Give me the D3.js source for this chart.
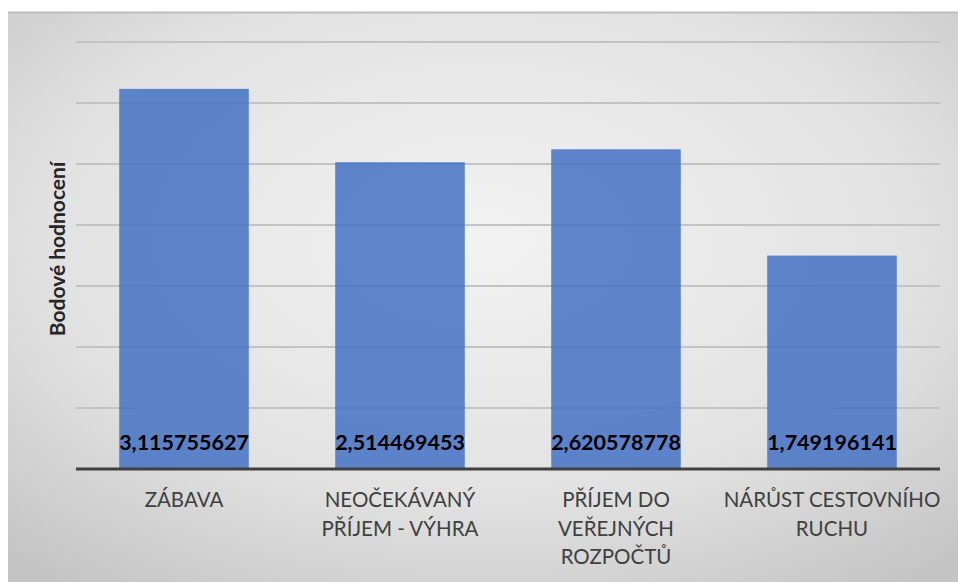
<!DOCTYPE html>
<html><head><meta charset="utf-8">
<script src="https://cdn.jsdelivr.net/npm/d3@7"></script>
<style>body{margin:0;background:#fff;}svg{display:block;}</style>
</head><body>
<svg id="c" width="958" height="582"></svg>
<script>
const categories = [["ZÁBAVA"], ["NEOČEKÁVANÝ", "PŘÍJEM - VÝHRA"], ["PŘÍJEM DO", "VEŘEJNÝCH", "ROZPOČTŮ"], ["NÁRŮST CESTOVNÍHO", "RUCHU"]];
const values = [3.115755627, 2.514469453, 2.620578778, 1.749196141];
const valueLabels = ["3,115755627", "2,514469453", "2,620578778", "1,749196141"];
const yTicks = [0, 0.5, 1, 1.5, 2, 2.5, 3, 3.5];
const yTitle = "Bodové hodnocení";

const svg = d3.select("#c");
const defs = svg.append("defs");
const g1 = defs.append("radialGradient").attr("id","bg").attr("cx","50%").attr("cy","40%").attr("r","75%");
g1.append("stop").attr("offset","0%").attr("stop-color","#f2f2f2");
g1.append("stop").attr("offset","60%").attr("stop-color","#e2e2e2");
g1.append("stop").attr("offset","100%").attr("stop-color","#c4c4c4");

svg.append("rect").attr("x",8).attr("y",12).attr("width",950).attr("height",570).attr("fill","url(#bg)");
svg.append("line").attr("x1",8).attr("x2",958).attr("y1",12.5).attr("y2",12.5).attr("stroke","#bdbdbd").attr("stroke-width",2);

const x = d3.scaleBand().domain(d3.range(categories.length)).range([76, 940]).paddingInner(0.4).paddingOuter(0.2);
const y = d3.scaleLinear().domain([0, 3.5]).range([469, 42]);

// gridlines
svg.append("g").selectAll("line").data(yTicks.filter(d=>d>0)).join("line")
  .attr("x1",76).attr("x2",940).attr("y1",d=>y(d)).attr("y2",d=>y(d))
  .attr("stroke","#c3c3c3").attr("stroke-width",2);

// bars
svg.append("g").selectAll("rect").data(values).join("rect")
  .attr("x",(d,i)=>x(i)).attr("width",x.bandwidth())
  .attr("y",d=>y(d)).attr("height",d=>y(0)-y(d))
  .attr("fill","#4472c4").attr("fill-opacity",0.85);

// baseline
svg.append("line").attr("x1",76).attr("x2",940).attr("y1",y(0)).attr("y2",y(0)).attr("stroke","#404040").attr("stroke-width",3);

// value labels
svg.append("g").selectAll("text").data(valueLabels).join("text")
  .attr("x",(d,i)=>x(i)+x.bandwidth()/2).attr("y",450)
  .attr("text-anchor","middle").attr("font-family","Lato, sans-serif").attr("font-weight","bold")
  .attr("font-size",21.5).attr("fill","#000").text(d=>d);

// category labels
const cg = svg.append("g").selectAll("text").data(categories).join("text")
  .attr("text-anchor","middle").attr("font-family","Lato, sans-serif").attr("font-size",20.5).attr("fill","#404040");
cg.each(function(lines,i){
  d3.select(this).selectAll("tspan").data(lines).join("tspan")
    .attr("x",x(i)+x.bandwidth()/2).attr("y",(d,j)=>507+j*28.5).text(d=>d);
});

// y title
svg.append("text").attr("transform","translate(65,249) rotate(-90)")
  .attr("text-anchor","middle").attr("font-family","Lato, sans-serif").attr("font-weight","bold")
  .attr("font-size",21).attr("fill","#262626").text(yTitle);
</script>
</body></html>
